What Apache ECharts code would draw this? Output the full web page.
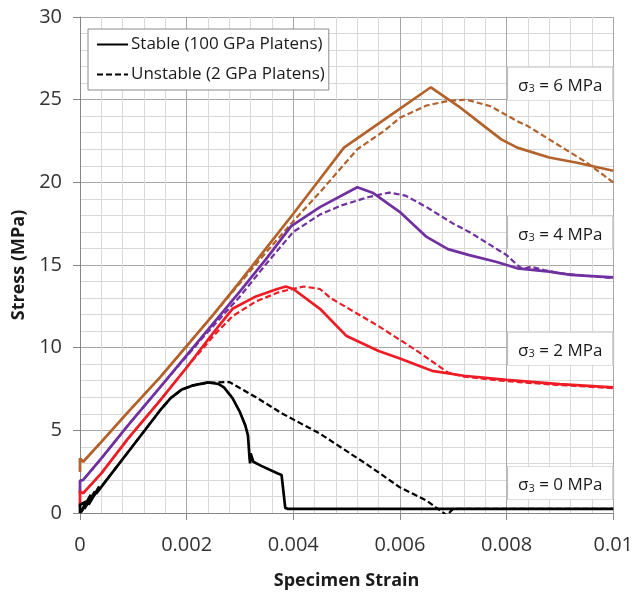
<!DOCTYPE html>
<html>
<head>
<meta charset="utf-8">
<title>Stress vs Specimen Strain</title>
<script src="https://cdn.jsdelivr.net/npm/echarts@6/dist/echarts.min.js"></script>
<style>
  html, body { margin: 0; padding: 0; background: #fff; }
  #chart { width: 636px; height: 595px; }
</style>
</head>
<body>
<div id="chart"></div>
<script>
// Tick labels
const xTickLabels = ['0', '0.002', '0.004', '0.006', '0.008', '0.01'];
const yTickLabels = ['0', '5', '10', '15', '20', '25', '30'];

// Stress (MPa) vs specimen strain, [strain, stress]
const stable0 = [
  [0, 0], [0, 0.5], [0.00012, 0.7], [0.00002, 0.05], [0.0002, 1.1], [0.00008, 0.25],
  [0.00028, 1.3], [0.00016, 0.5], [0.00036, 1.6], [0.0003, 1.15], [0.0005, 2.0],
  [0.001, 4.1], [0.0015, 6.2], [0.0017, 6.95], [0.0019, 7.45], [0.0021, 7.7],
  [0.0024, 7.9], [0.0026, 7.8], [0.0027, 7.6], [0.00286, 6.95], [0.003, 6.1],
  [0.0031, 5.3], [0.00315, 4.7], [0.00318, 3.3], [0.00319, 3.0], [0.0032, 3.6],
  [0.00325, 3.1], [0.0034, 2.85], [0.0037, 2.4], [0.00378, 2.3], [0.00385, 0.3],
  [0.0039, 0.25], [0.01, 0.25]
];
const unstable0 = [
  [0, 0], [0.0005, 2.0], [0.001, 4.1], [0.0015, 6.2], [0.0017, 6.95], [0.0019, 7.45],
  [0.0021, 7.7], [0.0024, 7.88], [0.0028, 7.92], [0.0033, 7.0], [0.0038, 6.0],
  [0.0045, 4.8], [0.0054, 2.9], [0.006, 1.55], [0.0065, 0.75], [0.0068, 0.05],
  [0.00688, -0.15], [0.00695, 0.1], [0.007, 0.25], [0.01, 0.25]
];
const stable2 = [
  [0, 0.4], [0, 1.3], [0.00006, 1.2], [0.0004, 2.4], [0.0009, 4.5], [0.0015, 6.8],
  [0.002, 8.8], [0.0025, 10.9], [0.00286, 12.35], [0.0033, 13.1], [0.0037, 13.55],
  [0.00386, 13.7], [0.004, 13.55], [0.0045, 12.35], [0.005, 10.7], [0.0056, 9.8],
  [0.006, 9.35], [0.0066, 8.6], [0.0072, 8.3], [0.008, 8.05], [0.009, 7.8], [0.01, 7.6]
];
const unstable2 = [
  [0, 0.4], [0, 1.3], [0.00006, 1.2], [0.0004, 2.4], [0.0009, 4.5], [0.0015, 6.8],
  [0.002, 8.8], [0.0025, 10.7], [0.00286, 11.9], [0.0033, 12.8], [0.00374, 13.37],
  [0.0042, 13.7], [0.0045, 13.55], [0.0047, 13.0], [0.0056, 11.3], [0.0063, 9.85],
  [0.0069, 8.5], [0.0072, 8.25], [0.0079, 8.0], [0.0088, 7.78], [0.01, 7.55]
];
const stable4 = [
  [0, 1.2], [0, 1.95], [0.00006, 2.0], [0.0004, 3.3], [0.0009, 5.3], [0.0015, 7.6],
  [0.0023, 10.7], [0.003, 13.4], [0.0035, 15.4], [0.00396, 17.35], [0.0045, 18.5],
  [0.0052, 19.7], [0.0055, 19.35], [0.006, 18.2], [0.0065, 16.7], [0.0069, 15.96],
  [0.0073, 15.6], [0.0078, 15.2], [0.0082, 14.8], [0.0088, 14.6], [0.0092, 14.4],
  [0.01, 14.25]
];
const unstable4 = [
  [0, 1.2], [0, 1.95], [0.00006, 2.0], [0.0004, 3.3], [0.0009, 5.3], [0.0015, 7.6],
  [0.0023, 10.6], [0.003, 13.1], [0.0035, 15.1], [0.004, 17.0], [0.0045, 18.05],
  [0.0049, 18.6], [0.0054, 19.1], [0.0058, 19.38], [0.0061, 19.2], [0.0065, 18.5],
  [0.007, 17.5], [0.0073, 17.0], [0.0077, 16.2], [0.008, 15.6], [0.0082, 15.0],
  [0.0083, 14.75], [0.00845, 14.9], [0.0087, 14.7], [0.009, 14.5], [0.0095, 14.35],
  [0.01, 14.2]
];
const stable6 = [
  [0, 2.5], [0, 3.3], [0.00006, 3.1], [0.0004, 4.3], [0.0009, 6.1], [0.0015, 8.2],
  [0.002, 10.1], [0.0025, 12.0], [0.003, 14.0], [0.0035, 16.05], [0.004, 18.1],
  [0.0045, 20.2], [0.00495, 22.1], [0.0058, 24.0], [0.00658, 25.75], [0.0071, 24.6],
  [0.0075, 23.6], [0.0079, 22.6], [0.0082, 22.1], [0.0088, 21.5], [0.0093, 21.2],
  [0.01, 20.7]
];
const unstable6 = [
  [0, 2.5], [0, 3.3], [0.00006, 3.1], [0.0004, 4.3], [0.0009, 6.1], [0.0015, 8.2],
  [0.002, 10.1], [0.0025, 12.0], [0.003, 13.9], [0.0035, 15.8], [0.004, 17.65],
  [0.0045, 19.4], [0.0052, 22.0], [0.0057, 23.1], [0.006, 23.9], [0.0065, 24.65],
  [0.0069, 24.92], [0.00725, 25.0], [0.0077, 24.6], [0.0082, 23.7], [0.0084, 23.4],
  [0.0088, 22.6], [0.0095, 21.2], [0.01, 20.0]
];

// Confining-pressure tags: [label value, strain at box right edge, stress at box centre]
const sigmaLabels = ['6', '4', '2', '0'];
const sigmaAnchors = [[0.01, 25.96], [0.01, 16.97], [0.01, 9.94], [0.01, 1.81]];

const FONT = '"Open Sans", "Noto Sans", sans-serif';
const BROWN = '#B3622B';
const PURPLE = '#7030A0';
const RED = '#EE1D25';
const BLACK = '#000000';
const DASH = [6, 3];

function tag(i) {
  return {
    coord: sigmaAnchors[i],
    symbol: 'rect',
    symbolSize: [106, 33],
    symbolOffset: [-53, 0],
    itemStyle: { color: '#ffffff', borderColor: '#bfbfbf', borderWidth: 1 },
    label: {
      show: true,
      position: 'inside',
      formatter: '{m|σ}{s|3}{m| = ' + sigmaLabels[i] + ' MPa}',
      rich: {
        m: { fontFamily: FONT, fontSize: 17, color: '#1a1a1a', lineHeight: 22, verticalAlign: 'bottom' },
        s: { fontFamily: FONT, fontSize: 11, color: '#1a1a1a', lineHeight: 13, verticalAlign: 'bottom' }
      }
    }
  };
}

function lineSeries(name, data, color, dashed, tagIndex) {
  const s = {
    name: name,
    type: 'line',
    data: data,
    symbol: 'none',
    smooth: false,
    animation: false,
    color: color,
    lineStyle: { color: color, width: dashed ? 2.2 : 2.7, type: dashed ? DASH : 'solid' },
    z: 3
  };
  if (tagIndex !== undefined) {
    s.markPoint = { silent: true, animation: false, z: 5, data: [tag(tagIndex)] };
  }
  return s;
}

const chart = echarts.init(document.getElementById('chart'), null, { renderer: 'canvas' });

chart.setOption({
  backgroundColor: '#ffffff',
  animation: false,
  grid: { left: 80, right: 21, top: 17, bottom: 80, containLabel: false },
  legend: {
    orient: 'vertical',
    left: 88,
    top: 29,
    padding: [7, 4, 7, 8],
    itemGap: 13,
    itemWidth: 31,
    itemHeight: 16,
    itemStyle: { opacity: 0 },
    backgroundColor: '#ffffff',
    borderColor: '#8c8c8c',
    borderWidth: 1,
    borderRadius: 0,
    selectedMode: false,
    textStyle: { fontFamily: FONT, fontSize: 17, color: '#1a1a1a', lineHeight: 16, padding: [0, 0, 0, -2] },
    data: ['Stable (100 GPa Platens)', 'Unstable (2 GPa Platens)']
  },
  xAxis: {
    type: 'value',
    min: 0,
    max: 0.01,
    interval: 0.002,
    name: 'Specimen Strain',
    nameLocation: 'middle',
    nameGap: 59,
    nameTextStyle: { fontFamily: FONT, fontSize: 18, fontWeight: 'bold', color: '#1a1a1a' },
    axisLine: { show: true, lineStyle: { color: '#868686', width: 1 } },
    axisTick: { show: true, length: 7, lineStyle: { color: '#868686' } },
    axisLabel: {
      margin: 22,
      fontFamily: FONT, fontSize: 20, color: '#333333',
      formatter: function (v) { return xTickLabels[Math.round(v / 0.002)]; }
    },
    splitLine: { show: true, lineStyle: { color: '#a6a6a6', width: 1 } },
    minorTick: { show: false, splitNumber: 5 },
    minorSplitLine: { show: true, lineStyle: { color: '#d9d9d9', width: 1 } }
  },
  yAxis: {
    type: 'value',
    min: 0,
    max: 30,
    interval: 5,
    name: 'Stress (MPa)',
    nameLocation: 'middle',
    nameRotate: 90,
    nameGap: 44,
    nameTextStyle: { fontFamily: FONT, fontSize: 18, fontWeight: 'bold', color: '#1a1a1a' },
    axisLine: { show: true, lineStyle: { color: '#868686', width: 1 } },
    axisTick: { show: true, length: 7, lineStyle: { color: '#868686' } },
    axisLabel: {
      margin: 18,
      fontFamily: FONT, fontSize: 20, color: '#333333',
      formatter: function (v) { return yTickLabels[Math.round(v / 5)]; }
    },
    splitLine: { show: true, lineStyle: { color: '#a6a6a6', width: 1 } },
    minorTick: { show: false, splitNumber: 5 },
    minorSplitLine: { show: true, lineStyle: { color: '#d9d9d9', width: 1 } }
  },
  series: [
    lineSeries('σ3 = 6 MPa unstable', unstable6, BROWN, true),
    lineSeries('σ3 = 6 MPa stable', stable6, BROWN, false, 0),
    lineSeries('σ3 = 4 MPa unstable', unstable4, PURPLE, true),
    lineSeries('σ3 = 4 MPa stable', stable4, PURPLE, false, 1),
    lineSeries('σ3 = 2 MPa unstable', unstable2, RED, true),
    lineSeries('σ3 = 2 MPa stable', stable2, RED, false, 2),
    lineSeries('Unstable (2 GPa Platens)', unstable0, BLACK, true),
    lineSeries('Stable (100 GPa Platens)', stable0, BLACK, false, 3)
  ]
});
</script>
</body>
</html>
